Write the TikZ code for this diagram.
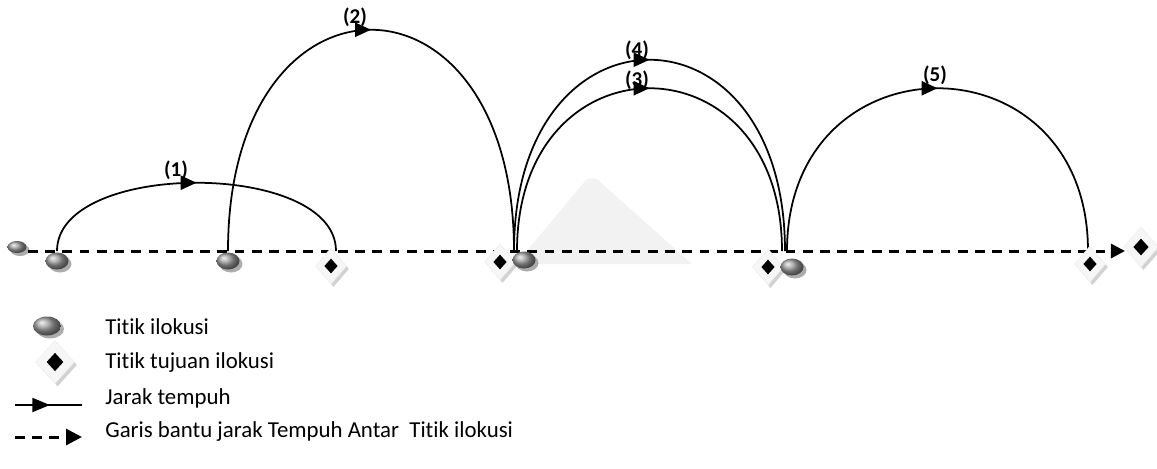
\documentclass[tikz,border=0pt]{standalone}
\usepackage{fontspec}
\setmainfont{Carlito}[Ligatures={NoCommon,NoRequired,NoContextual,NoDiscretionary}]
\usetikzlibrary{shapes.geometric,shadows,arrows.meta,decorations.markings}
\begin{document}
\begin{tikzpicture}[x=0.02cm,y=-0.02cm,
  ilok/.style={ellipse,inner sep=0pt,minimum width=0.46cm,minimum height=0.34cm,
    ball color=gray!75,draw=none,
    drop shadow={shadow xshift=0.06cm,shadow yshift=-0.06cm,fill=gray!65,opacity=1}},
  tjout/.style={diamond,inner sep=0pt,minimum width=0.62cm,minimum height=0.72cm,
    fill=gray!7,draw=gray!12,
    drop shadow={shadow xshift=0.05cm,shadow yshift=-0.06cm,fill=gray!35,opacity=1}},
  tjin/.style={diamond,inner sep=0pt,minimum width=0.27cm,minimum height=0.3cm,fill=black},
  arcline/.style={line width=1pt,postaction={decorate},
    decoration={markings,mark=at position 0.5 with {\arrow{Triangle[length=9pt,width=8pt]}}}},
  dashline/.style={line width=1.7pt,dash pattern=on 5.6pt off 4.2pt,
    -{Triangle[length=8pt,width=8pt]}},
  lbl/.style={font=\bfseries\fontsize{12}{14}\selectfont,inner sep=0pt},
  legtext/.style={font=\fontsize{13}{15}\selectfont,anchor=west,inner sep=0pt}
]
\useasboundingbox (0,0) rectangle (1157,468);
% faint background watermark
\fill[gray!10] (516,264) -- (586,180) to[out=30,in=150] (598,180) -- (692,264) -- cycle;

% dashed guide line
\node[ilok,minimum width=0.38cm,minimum height=0.24cm] (s0) at (17,247) {};
\coordinate (dstart) at (28,251);
\coordinate (dend) at (1125,251);
\draw[dashline] (dstart) -- (dend);

% arc end points
\coordinate (a1s) at (57,251);   \coordinate (a1e) at (336,251);
\coordinate (a2s) at (228,251);  \coordinate (a2e) at (514,251);
\coordinate (a3s) at (517,251);  \coordinate (a3e) at (782,251);
\coordinate (a4s) at (514,251);  \coordinate (a4e) at (785,251);
\coordinate (a5s) at (787,251);  \coordinate (a5e) at (1088,251);

% arcs
\draw[arcline] (a1s) .. controls +(0,-91) and +(0,-91) .. (a1e);
\draw[arcline] (a2s) .. controls +(0,-295) and +(0,-295) .. (a2e);
\draw[arcline] (a3s) .. controls +(0,-217) and +(0,-217) .. (a3e);
\draw[arcline] (a4s) .. controls +(0,-255) and +(0,-255) .. (a4e);
\draw[arcline] (a5s) .. controls +(0,-217) and +(0,-217) .. (a5e);

% labels
\node[lbl] (l1) at (176,170) {(1)};
\node[lbl] (l2) at (355,17) {(2)};
\node[lbl] (l4) at (637,50) {(4)};
\node[lbl] (l3) at (637,80) {(3)};
\node[lbl] (l5) at (935,75) {(5)};

% goal points
\node[tjout] (d1) at (331,266) {}; \node[tjin] (d1i) at (d1) {};
\node[tjout] (d2) at (500,262) {}; \node[tjin] (d2i) at (d2) {};
\node[tjout] (d3) at (768,267) {}; \node[tjin] (d3i) at (d3) {};
\node[tjout] (d4) at (1090,264) {}; \node[tjin] (d4i) at (d4) {};
\node[tjout,minimum width=0.7cm,minimum height=0.8cm] (d5) at (1141,247) {};
\node[tjin,minimum width=0.31cm,minimum height=0.34cm] (d5i) at (d5) {};

% illocution points
\node[ilok] (p1) at (57,261) {};
\node[ilok] (p2) at (228,261) {};
\node[ilok] (p3) at (524,260) {};
\node[ilok] (p4) at (792,267) {};

% legend
\node[ilok,minimum width=0.56cm,minimum height=0.38cm] (kp) at (47,326) {};
\node[legtext] (tp) at (105,327) {Titik ilokusi};
\node[tjout,minimum width=0.78cm,minimum height=0.86cm] (kd) at (55,362) {};
\node[tjin,minimum width=0.34cm,minimum height=0.37cm] (kdi) at (kd) {};
\node[legtext] (td) at (105,363) {Titik tujuan ilokusi};
\coordinate (ka) at (15,405); \coordinate (kb) at (82,405);
\draw[line width=1pt,postaction={decorate},
  decoration={markings,mark=at position 0.52 with {\arrow{Triangle[length=10pt,width=8pt]}}}] (ka) -- (kb);
\node[legtext] (tj) at (105,398) {Jarak tempuh};
\coordinate (kc) at (15,437); \coordinate (kd2) at (82,437);
\draw[dashline,-{Triangle[length=9pt,width=9pt]}] (kc) -- (kd2);
\node[legtext] (tg) at (105,432) {Garis bantu jarak Tempuh Antar\ \ Titik ilokusi};
\end{tikzpicture}
\end{document}
